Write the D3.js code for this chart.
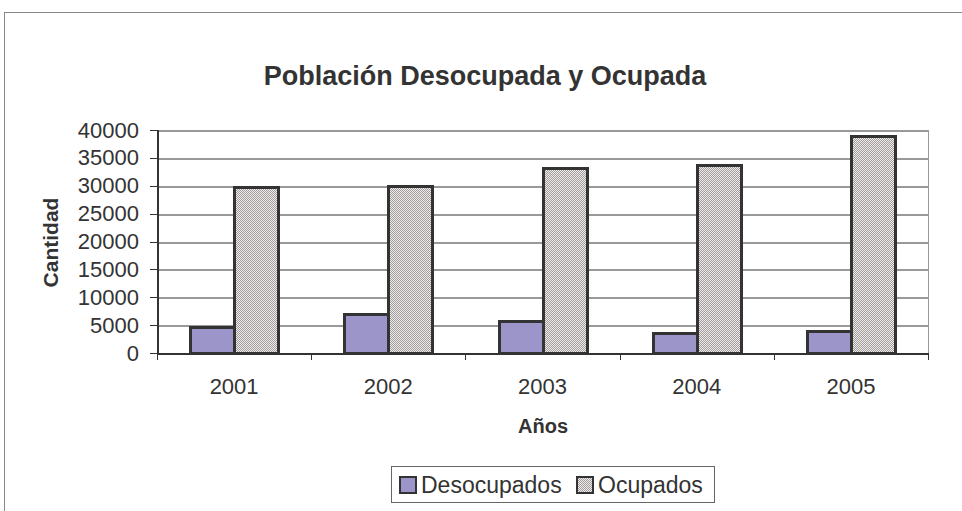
<!DOCTYPE html>
<html>
<head>
<meta charset="UTF-8">
<title>Poblacion</title>
<style type="text/css">
	body { margin: 0; background: #fff; }
	text { font-family: "Liberation Sans", Arial, sans-serif; fill: #333; }
	.tick text { font-size: 22px; fill: #333; }
	.axis path, .axis line { stroke: #333; }
</style>
<script type="text/javascript" src="https://cdn.jsdelivr.net/npm/d3@7/dist/d3.min.js"></script>
</head>
<body>
<div id="div_main"></div>
<script type="text/javascript">

	var years = ["2001", "2002", "2003", "2004", "2005"];
	var series = ["Desocupados", "Ocupados"];
	var desocupados = [4700, 6950, 5750, 3650, 3950];
	var ocupados = [29700, 30000, 33200, 33750, 38900];
	var yTicks = [0, 5000, 10000, 15000, 20000, 25000, 30000, 35000, 40000];

	var svg_w = 962, svg_h = 511;
	var plotL = 157, plotR = 928, plotT = 130, plotB = 353;

	var svg = d3.select("#div_main")
				.append("svg")
					.attr("width", svg_w)
					.attr("height", svg_h)
					.attr("shape-rendering", "crispEdges");

	// fine grey dither for the second series
	var defs = svg.append("defs");
	var pat = defs.append("pattern")
			.attr("id", "dots")
			.attr("patternUnits", "userSpaceOnUse")
			.attr("width", 2).attr("height", 2);
	pat.append("rect").attr("width", 2).attr("height", 2).attr("fill", "#eeebeb");
	pat.append("rect").attr("width", 1).attr("height", 1).attr("fill", "#a39c9c");
	pat.append("rect").attr("x", 1).attr("y", 1).attr("width", 1).attr("height", 1).attr("fill", "#a39c9c");

	var fills = ["#9b95c9", "url(#dots)"];

	// outer chart frame (runs off the right and bottom)
	svg.append("rect")
		.attr("x", 4.5).attr("y", 12.5)
		.attr("width", 1000).attr("height", 600)
		.attr("fill", "none")
		.attr("stroke", "#888");

	var scaleX = d3.scaleBand()
				.domain(years)
				.range([plotL, plotR])
				.paddingInner(0)
				.paddingOuter(0);

	var scaleY = d3.scaleLinear()
				.domain([0, 40000])
				.range([plotB, plotT]);

	// gridlines
	svg.append("g")
		.selectAll("line")
		.data(yTicks.slice(1))
		.enter()
		.append("line")
			.attr("x1", plotL).attr("x2", plotR)
			.attr("y1", function (d) { return Math.round(scaleY(d)) + 0.5; })
			.attr("y2", function (d) { return Math.round(scaleY(d)) + 0.5; })
			.attr("stroke", "#999")
			.attr("stroke-width", 2);

	// right edge of plot area
	svg.append("line")
		.attr("x1", plotR + 0.5).attr("x2", plotR + 0.5)
		.attr("y1", plotT).attr("y2", plotB)
		.attr("stroke", "#999");

	// bars
	var barW = 44;
	var data = years.map(function (y, i) { return { year: y, values: [desocupados[i], ocupados[i]] }; });

	var groups = svg.append("g")
		.selectAll("g")
		.data(data)
		.enter()
		.append("g")
			.attr("transform", function (d) { return "translate(" + Math.round(scaleX(d.year) + scaleX.bandwidth() / 2 - barW) + ",0)"; });

	groups.selectAll("rect")
		.data(function (d) { return d.values; })
		.enter()
		.append("rect")
			.attr("x", function (d, i) { return i * barW; })
			.attr("y", function (d) { return Math.round(scaleY(d)); })
			.attr("width", barW)
			.attr("height", function (d) { return plotB - Math.round(scaleY(d)); })
			.attr("fill", function (d, i) { return fills[i]; })
			.attr("stroke", "#333")
			.attr("stroke-width", 3);

	// y axis
	var axisY = d3.axisLeft(scaleY)
				.tickValues(yTicks)
				.tickSize(7)
				.tickPadding(11)
				.tickFormat(d3.format("d"));

	svg.append("g")
		.attr("class", "y axis")
		.attr("transform", "translate(" + plotL + ",0)")
		.call(axisY)
		.call(function (g) { g.select(".domain").attr("d", "M0.5," + plotT + "V" + (plotB + 0.5)).attr("stroke-width", 2); });

	// x axis
	var axisX = d3.axisBottom(scaleX).tickSize(0).tickPadding(25);

	svg.append("g")
		.attr("class", "x axis")
		.attr("transform", "translate(0," + plotB + ")")
		.call(axisX)
		.call(function (g) { g.select(".domain").attr("d", "M" + plotL + ",0.5H" + plotR).attr("stroke-width", 2); });

	// category separators on x axis
	svg.append("g")
		.selectAll("line")
		.data(years.concat(["end"]))
		.enter()
		.append("line")
			.attr("x1", function (d) { return Math.round(d === "end" ? plotR : scaleX(d)) + 0.5; })
			.attr("x2", function (d) { return Math.round(d === "end" ? plotR : scaleX(d)) + 0.5; })
			.attr("y1", plotB).attr("y2", plotB + 7)
			.attr("stroke", "#333");

	// titles
	svg.append("text")
		.attr("x", 485).attr("y", 85)
		.attr("text-anchor", "middle")
		.style("font-size", "27px").style("font-weight", "bold")
		.text("Población Desocupada y Ocupada");

	svg.append("text")
		.attr("x", 543).attr("y", 433)
		.attr("text-anchor", "middle")
		.style("font-size", "20px").style("font-weight", "bold")
		.text("Años");

	svg.append("text")
		.attr("transform", "translate(58," + ((plotT + plotB) / 2 + 1) + ") rotate(-90)")
		.attr("text-anchor", "middle")
		.style("font-size", "21px").style("font-weight", "bold")
		.text("Cantidad");

	// legend
	var legend = svg.append("g");
	legend.append("rect")
		.attr("x", 391.5).attr("y", 466.5)
		.attr("width", 323).attr("height", 36)
		.attr("fill", "#fff")
		.attr("stroke", "#666");

	var legX = [400, 577];
	series.forEach(function (s, i) {
		legend.append("rect")
			.attr("x", legX[i]).attr("y", 477)
			.attr("width", 16).attr("height", 16)
			.attr("fill", fills[i])
			.attr("stroke", "#333")
			.attr("stroke-width", 2);
		legend.append("text")
			.attr("x", legX[i] + 21).attr("y", 493)
			.style("font-size", "23px")
			.text(s);
	});

</script>
</body>
</html>
